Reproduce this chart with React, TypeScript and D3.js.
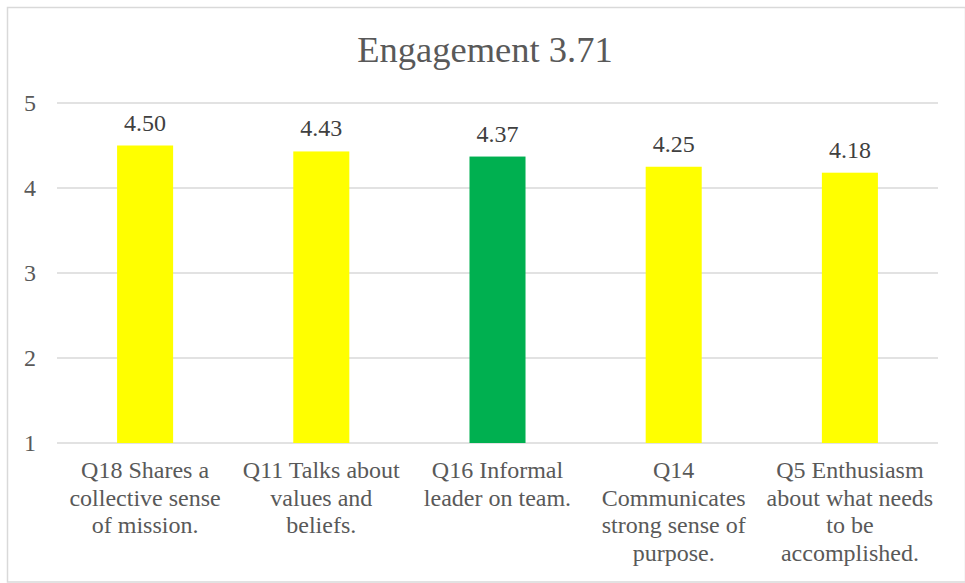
import React from "react";
import * as d3 from "d3";

const title = "Engagement 3.71";
const categories: string[][] = [
  ["Q18 Shares a", "collective sense", "of mission."],
  ["Q11 Talks about", "values and", "beliefs."],
  ["Q16 Informal", "leader on team."],
  ["Q14", "Communicates", "strong sense of", "purpose."],
  ["Q5 Enthusiasm", "about what needs", "to be", "accomplished."],
];
const values = [4.5, 4.43, 4.37, 4.25, 4.18];
const barColors = ["#FFFF00", "#FFFF00", "#00B050", "#FFFF00", "#FFFF00"];
const yTicks = [1, 2, 3, 4, 5];

const W = 965;
const H = 583;
const FONT = "Liberation Serif, Times New Roman, Tinos, DejaVu Serif, serif";
const TXT = "#595959";

export default function App() {
  const x = d3
    .scaleBand<number>()
    .domain(values.map((_, i) => i))
    .range([57, 938])
    .paddingInner(0.682)
    .paddingOuter(0.341);
  const y = d3.scaleLinear().domain([1, 5]).range([443, 103]);

  return (
    <svg
      width={W}
      height={H}
      style={{ position: "absolute", left: 0, top: 0, background: "#fff", fontFamily: FONT }}
    >
      <rect x={0} y={0} width={W} height={H} fill="#fff" />
      <rect x={7.5} y={7.5} width={W - 7} height={H - 8.5} fill="none" stroke="#D9D9D9" strokeWidth={1.5} />
      <text x={485} y={62} textAnchor="middle" fontSize={36.5} fill={TXT}>
        {title}
      </text>
      {yTicks.map((t) => (
        <g key={t}>
          <line x1={57} x2={938} y1={y(t)} y2={y(t)} stroke="#D9D9D9" strokeWidth={1.5} />
          <text x={36} y={y(t)} dy="0.35em" textAnchor="end" fontSize={24} fill={TXT}>
            {t}
          </text>
        </g>
      ))}
      {values.map((v, i) => {
        const bx = x(i)!;
        const bw = x.bandwidth();
        const cx = bx + bw / 2;
        return (
          <g key={i}>
            <rect x={bx} y={y(v)} width={bw} height={y(1) - y(v)} fill={barColors[i]} />
            <text x={cx} y={y(v) - 15} textAnchor="middle" fontSize={24} fill="#404040">
              {v.toFixed(2)}
            </text>
            <text textAnchor="middle" fontSize={24} fill={TXT}>
              {categories[i].map((line, j) => (
                <tspan key={j} x={cx} y={478 + j * 27.7}>
                  {line}
                </tspan>
              ))}
            </text>
          </g>
        );
      })}
    </svg>
  );
}
